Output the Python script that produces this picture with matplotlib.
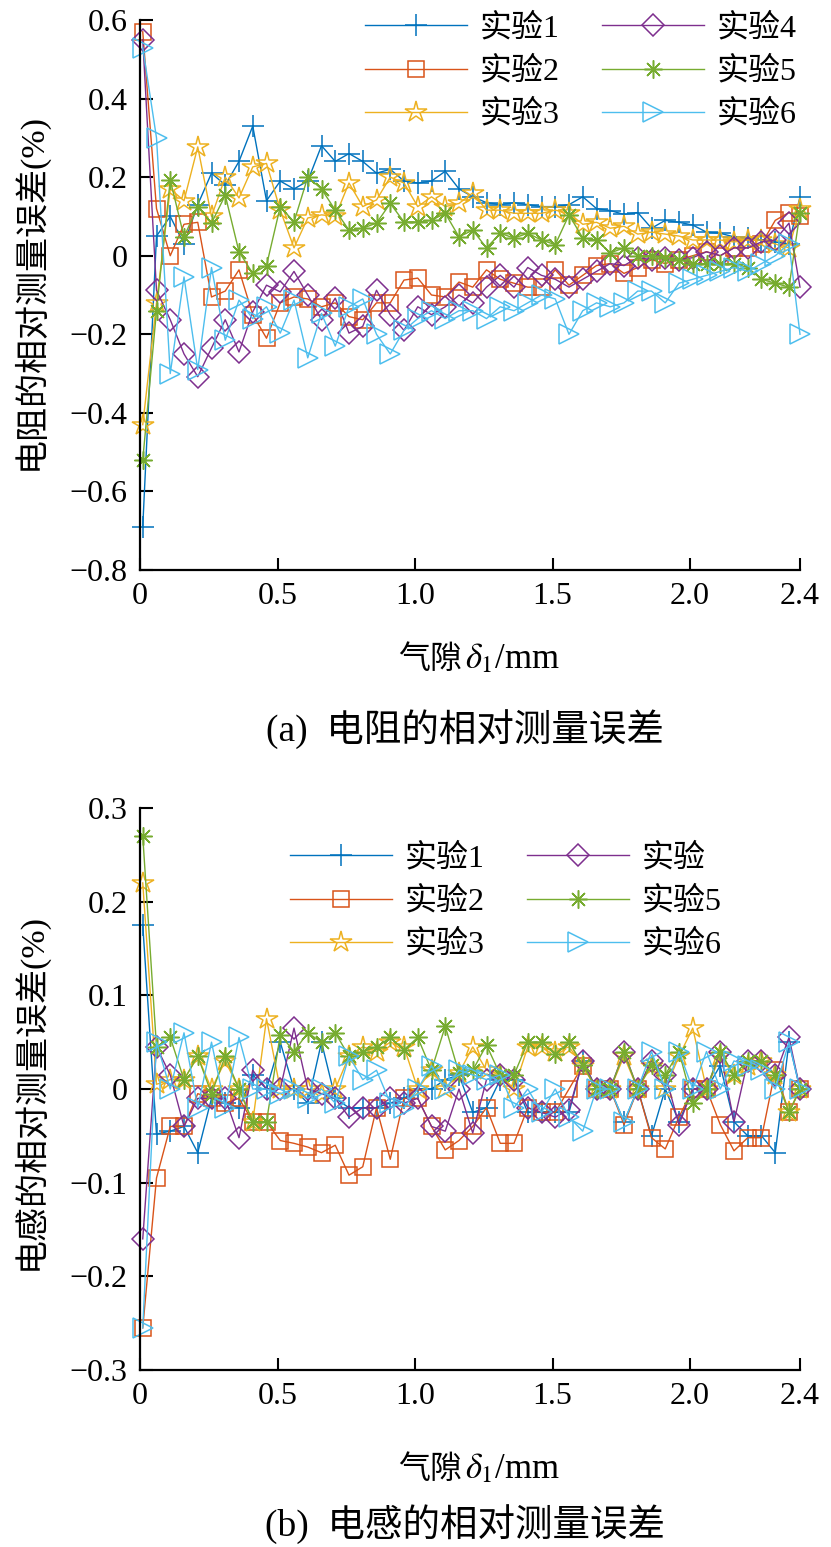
import matplotlib
matplotlib.use("Agg")
import matplotlib.pyplot as plt

plt.rcParams['font.family'] = ['Liberation Serif', 'Noto Sans CJK SC']
plt.rcParams['mathtext.fontset'] = 'stix'
plt.rcParams['axes.unicode_minus'] = True

# ---------------------------------------------------------------
# data
# ---------------------------------------------------------------
gap = [0.01, 0.06, 0.11, 0.16, 0.21, 0.26, 0.31, 0.36, 0.41, 0.46,
       0.51, 0.56, 0.61, 0.66, 0.71, 0.76, 0.81, 0.86, 0.91, 0.96,
       1.01, 1.06, 1.11, 1.16, 1.21, 1.26, 1.31, 1.36, 1.41, 1.46,
       1.51, 1.56, 1.61, 1.66, 1.71, 1.76, 1.81, 1.86, 1.91, 1.96,
       2.01, 2.06, 2.11, 2.16, 2.21, 2.26, 2.31, 2.36, 2.40]

# (a) resistance relative error (%)
res1 = [-0.69, 0.05, 0.10, 0.03, 0.13, 0.21, 0.18, 0.24, 0.33, 0.14,
        0.19, 0.17, 0.19, 0.28, 0.24, 0.26, 0.24, 0.21, 0.22, 0.19,
        0.185, 0.19, 0.215, 0.17, 0.15, 0.135, 0.13, 0.135, 0.13, 0.125,
        0.125, 0.13, 0.15, 0.12, 0.115, 0.105, 0.11, 0.07, 0.09, 0.085,
        0.078, 0.06, 0.057, 0.048, 0.045, 0.04, 0.035, 0.03, 0.15]
res2 = [0.57, 0.12, 0.0, 0.08, 0.085, -0.105, -0.09, -0.036, -0.15, -0.21,
        -0.12, -0.105, -0.11, -0.13, -0.12, -0.155, -0.163, -0.12, -0.12, -0.062,
        -0.057, -0.1, -0.105, -0.067, -0.08, -0.036, -0.06, -0.07, -0.08, -0.08,
        -0.036, -0.075, -0.05, -0.025, -0.02, -0.045, -0.03, -0.01, -0.02, -0.01,
        0.0, 0.01, 0.0, 0.02, 0.02, 0.03, 0.09, 0.11, 0.10]
res3 = [-0.43, -0.12, 0.17, 0.14, 0.277, 0.10, 0.20, 0.147, 0.226, 0.235,
        0.116, 0.02, 0.096, 0.104, 0.10, 0.185, 0.125, 0.142, 0.20, 0.185,
        0.125, 0.15, 0.125, 0.133, 0.16, 0.116, 0.116, 0.108, 0.108, 0.108,
        0.116, 0.108, 0.08, 0.085, 0.07, 0.075, 0.055, 0.06, 0.055, 0.05,
        0.04, 0.04, 0.04, 0.035, 0.04, 0.04, 0.03, 0.02, 0.12]
res4 = [0.55, -0.088, -0.163, -0.25, -0.308, -0.235, -0.163, -0.245, -0.143, -0.075,
        -0.092, -0.04, -0.1, -0.163, -0.108, -0.197, -0.18, -0.088, -0.15, -0.19,
        -0.13, -0.15, -0.13, -0.1, -0.12, -0.08, -0.05, -0.08, -0.03, -0.05,
        -0.06, -0.08, -0.06, -0.04, -0.02, -0.025, -0.005, -0.01, -0.005, -0.01,
        -0.005, 0.01, 0.0, 0.02, 0.02, 0.035, 0.04, 0.083, -0.08]
res5 = [-0.52, -0.14, 0.193, 0.048, 0.125, 0.083, 0.154, 0.01, -0.045, -0.025,
        0.125, 0.086, 0.2, 0.17, 0.116, 0.065, 0.07, 0.083, 0.133, 0.086,
        0.086, 0.09, 0.108, 0.048, 0.065, 0.02, 0.057, 0.045, 0.057, 0.04,
        0.028, 0.104, 0.045, 0.04, 0.007, 0.02, 0.0, 0.0, -0.005, -0.01,
        -0.02, -0.02, -0.02, -0.02, -0.03, -0.06, -0.07, -0.08, 0.11]
res6 = [0.53, 0.30, -0.30, -0.054, -0.29, -0.03, -0.215, -0.113, -0.16, -0.13,
        -0.197, -0.113, -0.26, -0.147, -0.23, -0.13, -0.11, -0.2, -0.25, -0.19,
        -0.16, -0.14, -0.16, -0.14, -0.14, -0.16, -0.13, -0.14, -0.12, -0.1,
        -0.11, -0.2, -0.14, -0.12, -0.13, -0.12, -0.09, -0.09, -0.12, -0.07,
        -0.06, -0.05, -0.04, -0.03, -0.04, -0.02, 0.0, 0.03, -0.2]

# (b) inductance relative error (%)
ind1 = [0.175, -0.048, -0.045, -0.04, -0.068, -0.01, -0.015, -0.02, 0.015, 0.0,
        0.05, 0.0, -0.015, 0.05, -0.01, -0.02, -0.02, -0.02, -0.015, -0.01,
        0.0, 0.0, 0.01, 0.015, -0.025, -0.02, 0.01, 0.01, -0.025, -0.025,
        -0.025, -0.025, 0.03, 0.0, 0.0, -0.035, 0.0, -0.05, 0.0, -0.035,
        0.0, 0.0, 0.025, -0.035, -0.05, -0.05, -0.068, 0.05, 0.0]
ind2 = [-0.255, -0.095, -0.04, -0.04, -0.005, -0.01, -0.015, -0.01, -0.035, -0.035,
        -0.055, -0.058, -0.062, -0.068, -0.06, -0.092, -0.083, -0.02, -0.075, -0.01,
        -0.01, -0.04, -0.065, -0.055, -0.04, -0.02, -0.058, -0.058, -0.02, -0.025,
        -0.025, 0.0, 0.025, 0.0, 0.0, -0.038, 0.0, -0.052, -0.064, -0.03,
        0.0, 0.0, -0.038, -0.066, -0.052, -0.052, 0.02, -0.025, 0.0]
ind3 = [0.22, 0.005, 0.01, 0.01, 0.035, 0.0, 0.03, 0.0, -0.035, 0.075,
        0.0, 0.0, 0.0, -0.005, 0.0, 0.035, 0.045, 0.04, 0.05, 0.045,
        0.0, 0.02, 0.0, 0.017, 0.045, 0.02, 0.015, 0.0, 0.045, 0.045,
        0.04, 0.045, 0.025, 0.0, 0.0, 0.035, 0.0, 0.025, 0.0, 0.035,
        0.065, 0.0, 0.035, 0.015, 0.025, 0.03, 0.015, -0.025, 0.0]
ind4 = [-0.16, 0.045, 0.015, -0.04, -0.01, -0.01, -0.01, -0.052, 0.02, 0.0,
        0.0, 0.065, 0.0, -0.005, -0.01, -0.03, -0.02, -0.02, -0.01, -0.015,
        -0.01, -0.04, -0.045, 0.0, -0.047, 0.01, 0.015, 0.01, -0.02, -0.025,
        -0.03, -0.022, 0.03, 0.0, 0.0, 0.04, 0.0, 0.03, 0.015, -0.038,
        0.0, 0.0, 0.04, -0.035, 0.03, 0.03, 0.015, 0.055, 0.0]
ind5 = [0.27, 0.045, 0.055, 0.01, 0.035, -0.005, 0.035, 0.0, -0.035, -0.035,
        0.058, 0.04, 0.06, 0.05, 0.06, 0.035, 0.04, 0.045, 0.055, 0.042,
        0.055, 0.02, 0.067, 0.017, 0.02, 0.047, 0.015, 0.015, 0.05, 0.05,
        0.037, 0.05, 0.026, 0.0, 0.0, 0.039, 0.0, 0.026, 0.015, 0.04,
        -0.015, 0.0, 0.04, 0.015, 0.03, 0.03, 0.015, -0.025, 0.0]
ind6 = [-0.255, 0.05, 0.0, 0.06, -0.02, 0.05, -0.02, 0.055, 0.0, 0.0,
        -0.005, 0.0, -0.01, 0.0, -0.015, 0.035, 0.01, 0.02, -0.015, -0.02,
        0.0, 0.025, 0.0, 0.02, 0.015, 0.01, 0.015, -0.02, 0.0, -0.025,
        0.0, -0.03, -0.045, 0.0, 0.0, -0.035, 0.0, 0.04, 0.0, 0.04,
        0.0, 0.04, 0.0, 0.03, 0.025, 0.02, 0.0, 0.05, 0.0]

labels_a = ['实验1', '实验2', '实验3', '实验4', '实验5', '实验6']
labels_b = ['实验1', '实验2', '实验3', '实验', '实验5', '实验6']

xticks = [0, 0.5, 1.0, 1.5, 2.0, 2.4]
xticklabels = ['0', '0.5', '1.0', '1.5', '2.0', '2.4']
yticks_a = [-0.8, -0.6, -0.4, -0.2, 0, 0.2, 0.4, 0.6]
yticklabels_a = ['\u22120.8', '\u22120.6', '\u22120.4', '\u22120.2', '0', '0.2', '0.4', '0.6']
yticks_b = [-0.3, -0.2, -0.1, 0, 0.1, 0.2, 0.3]
yticklabels_b = ['\u22120.3', '\u22120.2', '\u22120.1', '0', '0.1', '0.2', '0.3']

# MATLAB-like colours and markers
colors = ['#0072BD', '#D95319', '#EDB120', '#7E2F8E', '#77AC30', '#4DBEEE']
markers = ['+', 's', '*', 'D', (8, 2, 0), '>']
msizes = [16, 12, 16, 11, 13, 15]


def draw_panel(ax, series, labels, yticks, yticklabels, ylim):
    for k in range(6):
        ax.plot(gap, series[k], color=colors[k], marker=markers[k],
                markersize=msizes[k], markerfacecolor='none',
                markeredgecolor=colors[k], markeredgewidth=1.1,
                linewidth=1.0, label=labels[k], clip_on=False)
    ax.set_xlim(0, 2.4)
    ax.set_ylim(ylim)
    ax.set_xticks(xticks)
    ax.set_xticklabels(xticklabels)
    ax.set_yticks(yticks)
    ax.set_yticklabels(yticklabels)
    ax.spines['top'].set_visible(False)
    ax.spines['right'].set_visible(False)
    ax.spines['left'].set_linewidth(1.6)
    ax.spines['bottom'].set_linewidth(1.6)
    ax.tick_params(direction='in', length=9, width=1.5, labelsize=23, pad=9)


fig = plt.figure(figsize=(8.31, 15.47), dpi=100)

ax1 = fig.add_axes([140 / 831, 1 - 570 / 1547, 660 / 831, 550 / 1547])
draw_panel(ax1, [res1, res2, res3, res4, res5, res6], labels_a,
           yticks_a, yticklabels_a, (-0.8, 0.6))

ax2 = fig.add_axes([140 / 831, 1 - 1370 / 1547, 660 / 831, 562 / 1547])
draw_panel(ax2, [ind1, ind2, ind3, ind4, ind5, ind6], labels_b,
           yticks_b, yticklabels_b, (-0.3, 0.3))

leg_kw = dict(ncol=2, frameon=False, fontsize=23, handlelength=3.2,
              handletextpad=0.4, columnspacing=1.3, labelspacing=0.42,
              borderpad=0, borderaxespad=0, loc='upper left',
              bbox_transform=fig.transFigure)
ax1.legend(bbox_to_anchor=(365 / 831, 1 - 14 / 1547), **leg_kw)
ax2.legend(bbox_to_anchor=(290 / 831, 1 - 844 / 1547), **leg_kw)

# y labels
fig.text(30 / 831, 1 - 292 / 1547, '电阻的相对测量误差(%)', rotation=90,
         ha='center', va='center', fontsize=24.5)
fig.text(30 / 831, 1 - 1092 / 1547, '电感的相对测量误差(%)', rotation=90,
         ha='center', va='center', fontsize=24.5)

# x labels
for ybase in (668, 1478):
    fig.text(462 / 831, 1 - ybase / 1547, '气隙', ha='right', va='baseline',
             fontsize=23)
    fig.text(465 / 831, 1 - ybase / 1547, r'$\delta_1$/mm', ha='left',
             va='baseline', fontsize=25)

# captions
fig.text(465 / 831, 1 - 730 / 1547, '(a)  电阻的相对测量误差', ha='center',
         va='center', fontsize=27)
fig.text(465 / 831, 1 - 1525 / 1547, '(b)  电感的相对测量误差', ha='center',
         va='center', fontsize=27)

fig.savefig('out.png', dpi=100)
